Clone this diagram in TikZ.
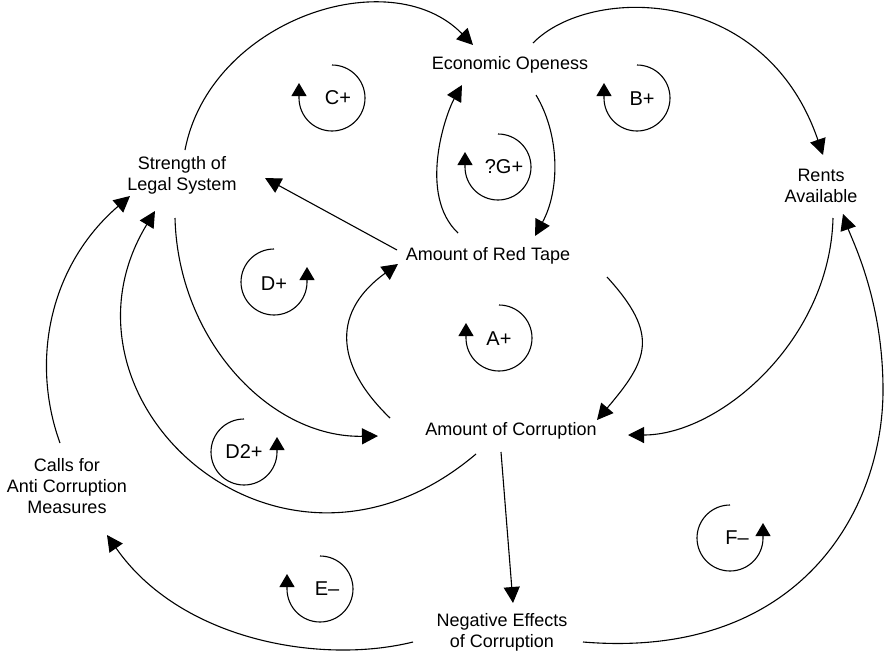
\documentclass[tikz,border=0pt]{standalone}
\usepackage{fontspec}
\setmainfont{Liberation Sans}
\usetikzlibrary{arrows.meta,calc}

\begin{document}
\begin{tikzpicture}[x=1pt,y=-1pt,
    link/.style={line width=1.1pt,-{Triangle[length=16pt,width=16pt]}},
    loopline/.style={line width=1.1pt,-{Triangle[length=13pt,width=15pt]}}]
\useasboundingbox (0,0) rectangle (885,653);

\begin{scope}[every node/.style={align=center,inner sep=0pt,font=\fontsize{18}{21}\selectfont}]
    \node (eco) at (510,65) {Economic Openess};
    \node (legal) at (182,175) {Strength of\\Legal System};
    \node (rents) at (821,186) {Rents\\Available};
    \node (red) at (488,256) {Amount of Red Tape};
    \node (corr) at (511,431) {Amount of Corruption};
    \node (calls) at (67,486) {Calls for\\Anti Corruption\\Measures};
    \node (neg) at (502,632) {Negative Effects\\of Corruption};
\end{scope}

\begin{scope}[every node/.style={inner sep=0pt,font=\fontsize{20}{24}\selectfont}]
    \node (cplus) at (338,98) {C+};
    \node (bplus) at (642,99) {B+};
    \node (gplus) at (504,167) {?G+};
    \node (aplus) at (499,339) {A+};
    \node (dplus) at (274,284) {D+};
    \node (dtwoplus) at (244,452) {D2+};
    \node (eminus) at (327,589) {E--};
    \node (fminus) at (737,538) {F--};
\end{scope}

% loop signs
\begin{scope}[loopline]
    \draw (332,65) arc[start angle=-90,end angle=180,radius=33] -- ++(0,-15);
    \draw (637,65) arc[start angle=-90,end angle=180,radius=33] -- ++(0,-15);
    \draw (498,134) arc[start angle=-90,end angle=180,radius=33] -- ++(0,-15);
    \draw (499,305) arc[start angle=-90,end angle=180,radius=33] -- ++(0,-15);
    \draw (320,556) arc[start angle=-90,end angle=180,radius=33] -- ++(0,-15);
    \draw (274,249) arc[start angle=-90,end angle=-360,radius=33] -- ++(0,-15);
    \draw (244,419) arc[start angle=-90,end angle=-360,radius=33] -- ++(0,-15);
    \draw (730,505) arc[start angle=-90,end angle=-360,radius=33] -- ++(0,-15);
\end{scope}

% causal links
\begin{scope}[link]
    \draw ($(legal)+(3,-25)$) .. controls (210,20) and (390,-40) .. ($(eco)+(-37,-20)$);
    \draw ($(eco)+(23,-22)$) .. controls (590,-15) and (765,-15) .. ($(rents)+(2,-31)$);
    \draw ($(red)+(-30,-23)$) .. controls (418,195) and (445,115) .. ($(eco)+(-48,20)$);
    \draw ($(eco)+(26,30)$) .. controls (560,135) and (560,190) .. ($(red)+(47,-20)$);
    \draw ($(red)+(-91,-6)$) -- ($(legal)+(83,3)$);
    \draw ($(corr)+(-121,-13)$) .. controls (332,362) and (334,310) .. ($(red)+(-90,8)$);
    \draw ($(red)+(119,21)$) .. controls (660,335) and (648,360) .. ($(corr)+(86,-11)$);
    \draw ($(rents)+(12,32)$) .. controls (830,340) and (720,435) .. ($(corr)+(117,4)$);
    \draw ($(neg)+(81,10)$) .. controls (800,660) and (883,510) .. (883,390)
        .. controls (883,300) and (852,240) .. ($(rents)+(22,28)$);
    \draw ($(legal)+(-7,43)$) .. controls (178,340) and (270,438) .. ($(corr)+(-133,5)$);
    \draw ($(corr)+(-35,23)$) .. controls (280,620) and (40,400) .. ($(legal)+(-27,36)$);
    \draw ($(calls)+(-7,-43)$) .. controls (30,360) and (50,265) .. ($(legal)+(-52,21)$);
    \draw ($(corr)+(-10,21)$) -- ($(neg)+(11,-29)$);
    \draw ($(neg)+(-89,10)$) .. controls (320,665) and (180,640) .. ($(calls)+(40,49)$);
\end{scope}
\end{tikzpicture}
\end{document}
